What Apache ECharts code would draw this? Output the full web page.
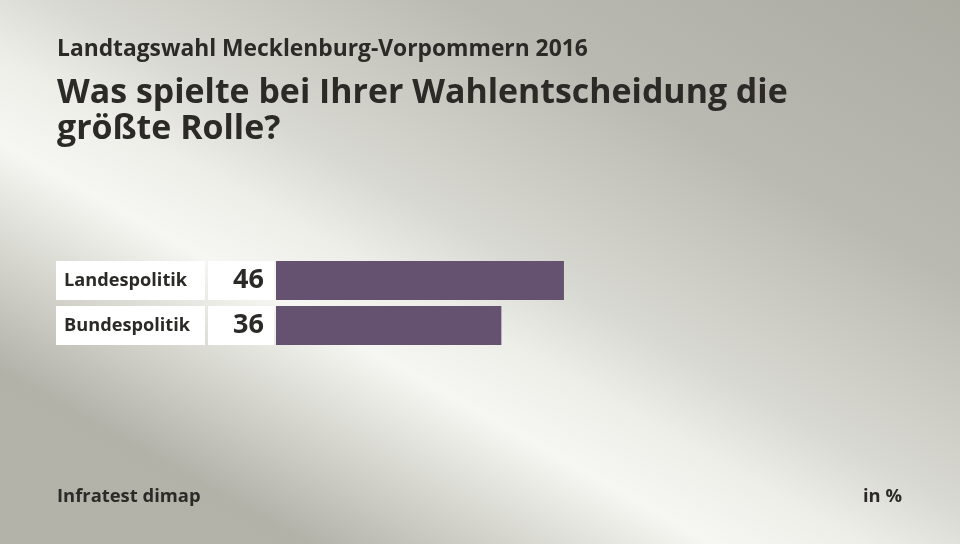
<!DOCTYPE html>
<html>
<head>
<meta charset="utf-8">
<script src="https://cdn.jsdelivr.net/npm/echarts@6/dist/echarts.min.js"></script>
<style>
html,body{margin:0;padding:0;}
#chart{width:960px;height:544px;}
</style>
</head>
<body>
<div id="chart"></div>
<script>
const categories = ['Landespolitik', 'Bundespolitik'];
const values = [46, 36];
const supertitle = 'Landtagswahl Mecklenburg-Vorpommern 2016';
const mainTitle = 'Was spielte bei Ihrer Wahlentscheidung die\ngrößte Rolle?';
const sourceText = 'Infratest dimap';
const unitText = 'in %';

const FONT = '"Open Sans", sans-serif';
const TXT = '#2b2a27';

const chart = echarts.init(document.getElementById('chart'));
chart.setOption({
  backgroundColor: {
    type: 'linear', global: true,
    x: -232, y: 413, x2: 230, y2: -409,
    colorStops: [
      {offset: 0, color: '#b4b3aa'},
      {offset: 0.16, color: '#b3b2a9'},
      {offset: 0.37, color: '#f6f7f2'},
      {offset: 0.45, color: '#eeeee9'},
      {offset: 0.53, color: '#d9d9d3'},
      {offset: 0.74, color: '#bbbab2'},
      {offset: 1, color: '#acaba2'}
    ]
  },
  title: [
    {text: supertitle, left: 57, top: 36, padding: 0,
     textStyle: {fontFamily: FONT, fontSize: 22.8, fontWeight: 'bold', color: TXT, lineHeight: 27}},
    {text: mainTitle, left: 57, top: 75, padding: 0,
     textStyle: {fontFamily: FONT, fontSize: 33.9, fontWeight: 'bold', color: TXT, lineHeight: 36}},
    {text: sourceText, left: 57, top: 485, padding: 0,
     textStyle: {fontFamily: FONT, fontSize: 18.4, fontWeight: 'bold', color: TXT, lineHeight: 24}},
    {text: unitText, right: 58, top: 485, padding: 0,
     textStyle: {fontFamily: FONT, fontSize: 18.4, fontWeight: 'bold', color: TXT, lineHeight: 24}}
  ],
  grid: {left: 276, right: 58, top: 258, height: 90, containLabel: false},
  xAxis: {type: 'value', min: 0, max: 100, show: false},
  yAxis: {
    type: 'category', data: categories, inverse: true,
    axisLine: {show: false}, axisTick: {show: false}, splitLine: {show: false},
    axisLabel: {
      align: 'left', margin: 220, width: 141, height: 39, lineHeight: 39,
      padding: [0, 0, 0, 8], backgroundColor: '#ffffff',
      fontFamily: FONT, fontSize: 18.2, fontWeight: 'bold', color: TXT
    }
  },
  series: [{
    type: 'bar', data: values, barWidth: 39,
    itemStyle: {color: '#655270'},
    label: {
      show: true, position: 'left', distance: 2, formatter: '{c}',
      width: 56, height: 39, lineHeight: 39, padding: [0, 10, 0, 0],
      backgroundColor: '#ffffff', align: 'right',
      fontFamily: FONT, fontSize: 27, fontWeight: 'bold', color: TXT
    },
    silent: true
  }],
  animation: false
});
</script>
</body>
</html>
